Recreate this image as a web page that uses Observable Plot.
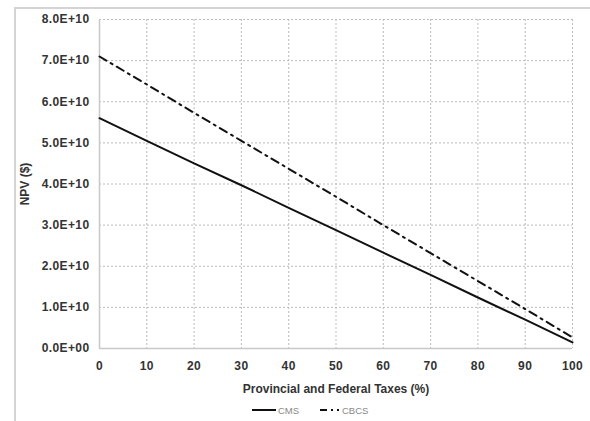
<!DOCTYPE html>
<html><head><meta charset="utf-8">
<script src="https://cdn.jsdelivr.net/npm/d3@7"></script>
<script src="https://cdn.jsdelivr.net/npm/@observablehq/plot@0.6"></script>
<style>
html,body{margin:0;padding:0;background:#fff;}
body{width:590px;height:421px;position:relative;overflow:hidden;font-family:"Liberation Sans",Arial,sans-serif;}
#frameTop{position:absolute;left:15px;top:7px;width:575px;height:0;border-top:2px solid #d4d4d4;}
#frameLeft{position:absolute;left:14px;top:7px;width:0;height:414px;border-left:2px solid #d4d4d4;}
#chart{position:absolute;left:0;top:0;}
#legend{position:absolute;left:0;top:404px;width:590px;height:14px;font-size:9.5px;color:#888;}
.li{position:absolute;top:0;display:flex;align-items:center;gap:2px;}
</style></head>
<body>
<div id="frameTop"></div><div id="frameLeft"></div>
<div id="chart"></div>
<div id="legend"></div>
<script>
const taxes = [0,10,20,30,40,50,60,70,80,90,100];
const cmsNPV = [5.60e10,5.05e10,4.50e10,3.97e10,3.42e10,2.88e10,2.33e10,1.79e10,1.24e10,0.70e10,0.15e10];
const cbcsNPV = [7.10e10,6.42e10,5.73e10,5.05e10,4.37e10,3.69e10,3.00e10,2.32e10,1.64e10,0.96e10,0.27e10];
const seriesNames = ["CMS","CBCS"];
const xTicks = [0,10,20,30,40,50,60,70,80,90,100];
const yTicks = [0,1e10,2e10,3e10,4e10,5e10,6e10,7e10,8e10];

const rows = [];
taxes.forEach((t,i)=>{
  rows.push({series:"CMS",tax:t,npv:cmsNPV[i]});
  rows.push({series:"CBCS",tax:t,npv:cbcsNPV[i]});
});
const fmtY = d => d===0 ? "0.0E+00" : (d/1e10).toFixed(1)+"E+10";

const plot = Plot.plot({
  width:590, height:400,
  marginLeft:99, marginRight:18, marginTop:19, marginBottom:52,
  style:{fontFamily:"Liberation Sans, Arial, sans-serif", fontSize:"12px", fontWeight:"bold", color:"#333", background:"transparent", letterSpacing:"0.4px"},
  x:{domain:[0,100]},
  y:{domain:[0,8e10]},
  marks:[
    Plot.gridX(xTicks,{stroke:"#bcbcbc", strokeOpacity:1, strokeDasharray:"2,2"}),
    Plot.gridY(yTicks,{stroke:"#bcbcbc", strokeOpacity:1, strokeDasharray:"2,2"}),
    Plot.ruleY([0],{stroke:"#c8c8c8", strokeWidth:1.5}),
    Plot.ruleX([0],{stroke:"#c8c8c8", strokeWidth:1.5}),
    Plot.line(rows.filter(r=>r.series==="CMS"),{x:"tax",y:"npv",stroke:"#111",strokeWidth:2}),
    Plot.line(rows.filter(r=>r.series==="CBCS"),{x:"tax",y:"npv",stroke:"#111",strokeWidth:2,strokeDasharray:"8,5,2,5"}),
    Plot.axisX({ticks:xTicks, tickSize:0, tickPadding:13, label:"Provincial and Federal Taxes (%)", labelAnchor:"center", labelArrow:"none", labelOffset:44, fontSize:12}),
    Plot.axisY({ticks:yTicks, tickSize:0, tickPadding:10, tickFormat:fmtY, label:"NPV ($)", labelAnchor:"center", labelArrow:"none", labelOffset:79, fontSize:12})
  ]
});
d3.select(plot).selectAll('g[aria-label="x-axis label"] text, g[aria-label="y-axis label"] text').style("letter-spacing","0px");
document.getElementById("chart").appendChild(plot);

// legend
const leg = document.getElementById("legend");
const legItems = [
  {name:seriesNames[0], left:252, w:24, dash:null},
  {name:seriesNames[1], left:320, w:20, dash:"7,4,2,4,2,20"}
];
legItems.forEach(it=>{
  const d = document.createElement("div");
  d.className="li"; d.style.left=it.left+"px";
  d.innerHTML = `<svg width="${it.w}" height="12"><line x1="0" x2="${it.w}" y1="6" y2="6" stroke="#111" stroke-width="2" ${it.dash?`stroke-dasharray="${it.dash}"`:""}/></svg><span>${it.name}</span>`;
  leg.appendChild(d);
});
</script>
</body></html>
